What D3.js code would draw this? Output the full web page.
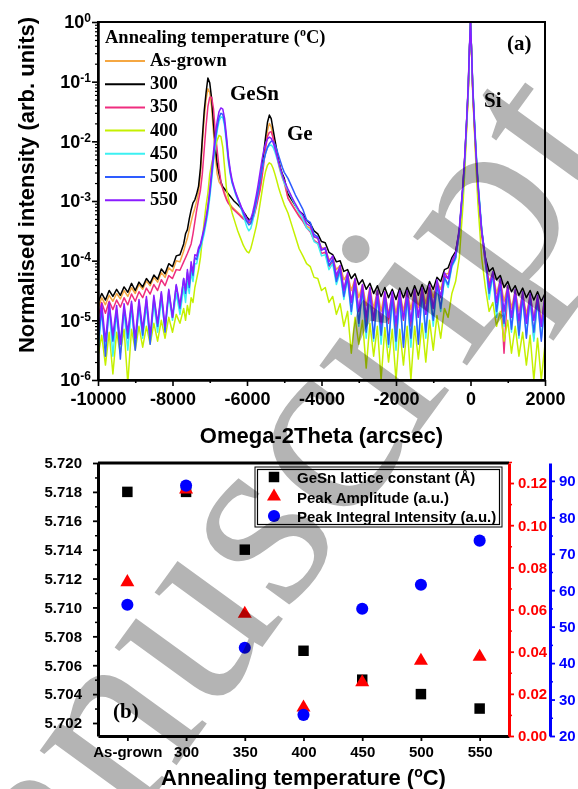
<!DOCTYPE html>
<html>
<head>
<meta charset="utf-8">
<script src="https://d3js.org/d3.v7.min.js"></script>
<style>
  body { margin: 0; background: #fff; }
  svg text { font-family: "Liberation Sans", Arial, sans-serif; font-weight: bold; }
  svg .serif { font-family: "Liberation Serif", "Times New Roman", serif; }
</style>
</head>
<body>
<script>

// ---------- panel (a) data : omega-2theta scans ----------
// scan positions (arcsec)
var omega = [
  -10000,-9900,-9800,-9700,-9600,-9500,-9400,-9300,-9200,-9100,-9000,-8900,-8800,-8700,-8600,-8500,-8400,-8300,-8200,-8100,-8000,-7900,-7800,-7700,
  -7650,-7600,-7550,-7500,-7450,-7400,-7350,-7300,-7250,-7200,-7150,-7100,-7050,-7000,-6950,-6900,-6850,-6800,-6750,-6700,-6650,-6600,-6550,-6500,-6450,-6400,-6350,-6300,-6250,-6200,-6150,-6100,-6050,-6000,-5950,-5900,-5850,-5800,-5750,-5700,-5650,-5600,-5550,-5500,-5450,-5400,-5350,-5300,-5250,-5200,-5150,-5100,-5050,-5000,
  -4900,-4800,-4700,-4600,-4500,-4400,-4300,-4200,-4100,-4000,-3900,-3800,-3700,-3600,-3500,-3400,-3300,-3200,-3100,-3000,-2900,-2800,-2700,-2600,-2500,-2400,-2300,-2200,-2100,-2000,-1900,-1800,-1700,-1600,-1500,-1400,-1300,-1200,-1100,-1000,-900,-800,-700,-600,-500,-400,
  -300,-200,-150,-100,-60,-30,0,30,60,100,150,200,300,
  400,500,600,700,800,900,1000,1100,1200,1300,1400,1500,1600,1700,1800,1900,2000
];

// log10 of normalised intensity
var logAsGrown = [
  -4.80,-4.62,-4.74,-4.58,-4.68,-4.55,-4.64,-4.50,-4.60,-4.45,-4.55,-4.40,-4.48,-4.34,-4.42,-4.28,-4.36,-4.20,-4.28,-4.12,-4.18,-4.00,-4.02,-3.84,
  -3.72,-3.62,-3.48,-3.35,-3.22,-3.12,-3.00,-2.85,-2.55,-2.05,-1.62,-1.30,-1.12,-1.18,-1.42,-1.85,-2.25,-2.55,-2.68,-2.73,-2.78,-2.86,-2.95,-3.02,-3.06,-3.10,-3.13,-3.16,-3.19,-3.22,-3.25,-3.28,-3.31,-3.34,-3.37,-3.36,-3.30,-3.20,-3.06,-2.92,-2.78,-2.55,-2.30,-2.05,-1.82,-1.70,-1.76,-1.92,-2.08,-2.24,-2.40,-2.52,-2.62,-2.70,
  -2.95,-3.05,-3.15,-3.24,-3.30,-3.42,-3.46,-3.60,-3.63,-3.78,-3.80,-3.98,-3.96,-4.15,-4.08,-4.32,-4.22,-4.50,-4.30,-4.62,-4.40,-4.75,-4.45,-4.80,-4.50,-4.85,-4.52,-4.90,-4.55,-4.88,-4.52,-4.85,-4.50,-4.82,-4.48,-4.78,-4.45,-4.72,-4.40,-4.62,-4.35,-4.48,-4.22,-4.22,-4.02,-3.92,
  -3.55,-2.78,-2.28,-1.68,-1.15,-0.52,0,-0.52,-1.15,-1.68,-2.28,-2.78,-3.55,
  -4.02,-4.35,-4.20,-4.55,-4.32,-4.68,-4.42,-4.80,-4.50,-4.85,-4.55,-4.90,-4.58,-4.95,-4.60,-5.00,-4.62
];
var log300 = [
  -4.70,-4.55,-4.66,-4.50,-4.60,-4.48,-4.58,-4.44,-4.53,-4.38,-4.50,-4.36,-4.44,-4.30,-4.38,-4.24,-4.31,-4.14,-4.22,-4.05,-4.10,-3.92,-3.90,-3.72,
  -3.55,-3.48,-3.30,-3.15,-3.03,-2.98,-2.88,-2.75,-2.45,-1.95,-1.50,-1.19,-0.94,-1.02,-1.28,-1.70,-2.08,-2.38,-2.55,-2.68,-2.76,-2.80,-2.84,-2.88,-2.92,-2.96,-3.00,-3.03,-3.06,-3.09,-3.13,-3.18,-3.22,-3.27,-3.31,-3.31,-3.26,-3.15,-3.00,-2.85,-2.70,-2.45,-2.18,-1.92,-1.68,-1.56,-1.62,-1.80,-1.98,-2.15,-2.32,-2.45,-2.55,-2.62,
  -2.88,-2.98,-3.08,-3.17,-3.22,-3.32,-3.38,-3.50,-3.55,-3.68,-3.70,-3.86,-3.90,-4.02,-4.00,-4.18,-4.15,-4.30,-4.22,-4.40,-4.32,-4.48,-4.38,-4.55,-4.42,-4.60,-4.45,-4.62,-4.48,-4.65,-4.46,-4.62,-4.45,-4.60,-4.42,-4.58,-4.40,-4.55,-4.35,-4.48,-4.28,-4.35,-4.15,-4.12,-3.95,-3.85,
  -3.50,-2.72,-2.22,-1.62,-1.10,-0.50,0,-0.50,-1.10,-1.62,-2.22,-2.72,-3.50,
  -3.95,-4.18,-4.12,-4.32,-4.25,-4.45,-4.35,-4.52,-4.42,-4.58,-4.46,-4.62,-4.50,-4.66,-4.52,-4.68,-4.55
];
var log350 = [
  -4.95,-4.70,-4.88,-4.68,-4.82,-4.66,-4.78,-4.62,-4.74,-4.56,-4.68,-4.52,-4.62,-4.46,-4.56,-4.40,-4.50,-4.32,-4.42,-4.25,-4.30,-4.15,-4.16,-4.02,
  -3.95,-3.88,-3.80,-3.72,-3.55,-3.35,-3.15,-2.98,-2.82,-2.55,-2.15,-1.75,-1.42,-1.26,-1.26,-1.45,-1.85,-2.15,-2.45,-2.68,-2.80,-2.90,-2.98,-3.04,-3.08,-3.12,-3.15,-3.18,-3.21,-3.24,-3.27,-3.30,-3.32,-3.34,-3.36,-3.35,-3.30,-3.22,-3.10,-2.96,-2.82,-2.62,-2.38,-2.12,-1.92,-1.85,-1.84,-1.94,-2.08,-2.22,-2.36,-2.48,-2.58,-2.66,
  -2.95,-3.06,-3.16,-3.26,-3.34,-3.45,-3.52,-3.66,-3.70,-3.88,-3.86,-4.10,-4.02,-4.30,-4.12,-4.48,-4.25,-4.70,-4.32,-4.85,-4.42,-5.10,-4.48,-5.00,-4.52,-5.15,-4.55,-5.05,-4.58,-5.20,-4.55,-5.00,-4.52,-5.10,-4.50,-4.95,-4.48,-4.90,-4.42,-4.80,-4.38,-4.60,-4.25,-4.30,-4.05,-3.95,
  -3.55,-2.80,-2.30,-1.70,-1.15,-0.52,0,-0.52,-1.15,-1.70,-2.30,-2.80,-3.55,
  -4.05,-4.40,-4.25,-4.70,-4.38,-5.55,-4.48,-4.95,-4.55,-5.10,-4.58,-5.00,-4.62,-5.30,-4.65,-5.10,-4.68
];
var log400 = [
  -5.60,-5.25,-5.75,-5.20,-5.90,-5.20,-5.55,-5.15,-6.05,-5.15,-5.50,-5.10,-5.45,-5.10,-5.40,-5.05,-5.35,-5.00,-5.30,-4.95,-5.20,-4.90,-5.05,-4.80,
  -5.00,-4.75,-4.90,-4.62,-4.70,-4.45,-4.30,-4.15,-3.95,-3.65,-3.35,-3.08,-2.87,-2.55,-2.38,-2.25,-2.10,-1.98,-1.90,-1.92,-2.10,-2.45,-2.80,-2.95,-3.08,-3.20,-3.30,-3.40,-3.50,-3.58,-3.66,-3.74,-3.80,-3.85,-3.87,-3.80,-3.68,-3.55,-3.42,-3.25,-3.05,-2.85,-2.65,-2.50,-2.40,-2.36,-2.38,-2.45,-2.55,-2.66,-2.78,-2.88,-2.97,-3.06,
  -3.20,-3.40,-3.60,-3.80,-3.92,-4.05,-4.10,-4.28,-4.30,-4.50,-4.45,-4.70,-4.60,-4.90,-4.72,-5.10,-4.85,-5.55,-4.95,-5.40,-5.00,-5.80,-5.05,-5.60,-5.10,-6.00,-5.12,-5.70,-5.15,-6.00,-5.15,-5.75,-5.10,-6.00,-5.10,-5.65,-5.05,-5.70,-5.00,-5.50,-4.92,-5.30,-4.80,-4.95,-4.55,-4.35,
  -3.95,-3.05,-2.45,-1.75,-1.20,-0.55,0,-0.55,-1.20,-1.75,-2.45,-3.05,-3.95,
  -4.45,-4.85,-4.70,-5.10,-4.85,-5.35,-5.00,-5.55,-5.10,-5.60,-5.20,-5.75,-5.25,-6.00,-5.30,-6.00,-5.40
];
var log450 = [
  -5.55,-4.85,-5.45,-4.80,-5.60,-4.90,-5.35,-4.85,-5.50,-4.80,-5.40,-4.78,-5.30,-4.75,-5.35,-4.72,-5.20,-4.65,-5.15,-4.60,-5.00,-4.55,-4.90,-4.45,
  -4.70,-4.35,-4.55,-4.20,-4.35,-4.05,-4.05,-3.88,-3.80,-3.68,-3.55,-3.38,-3.20,-2.95,-2.65,-2.35,-2.05,-1.82,-1.66,-1.59,-1.60,-1.75,-2.05,-2.35,-2.55,-2.70,-2.80,-2.90,-2.98,-3.06,-3.14,-3.24,-3.34,-3.44,-3.50,-3.46,-3.35,-3.20,-3.02,-2.85,-2.66,-2.48,-2.32,-2.20,-2.11,-2.07,-2.06,-2.10,-2.18,-2.28,-2.38,-2.50,-2.60,-2.70,
  -2.82,-2.95,-3.08,-3.20,-3.30,-3.45,-3.50,-3.68,-3.72,-3.92,-3.90,-4.15,-4.05,-4.40,-4.20,-4.65,-4.30,-4.90,-4.40,-5.10,-4.50,-5.30,-4.55,-5.35,-4.60,-5.40,-4.62,-5.45,-4.62,-5.50,-4.60,-5.40,-4.60,-5.45,-4.58,-5.35,-4.55,-5.30,-4.50,-5.10,-4.42,-4.85,-4.30,-4.45,-4.10,-3.98,
  -3.50,-2.75,-2.25,-1.62,-1.10,-0.50,0,-0.48,-1.05,-1.55,-2.15,-2.65,-3.45,
  -4.00,-4.65,-4.25,-4.95,-4.40,-5.10,-4.50,-5.20,-4.58,-5.30,-4.62,-5.25,-4.65,-5.35,-4.68,-5.30,-4.70
];
var log500 = [
  -5.40,-4.80,-5.60,-4.75,-5.35,-4.82,-5.65,-4.78,-5.30,-4.72,-5.50,-4.70,-5.25,-4.65,-5.40,-4.62,-5.10,-4.55,-5.20,-4.50,-4.95,-4.42,-4.80,-4.30,
  -4.55,-4.20,-4.45,-4.08,-4.25,-3.95,-3.98,-3.82,-3.75,-3.62,-3.48,-3.32,-3.12,-2.88,-2.58,-2.28,-1.98,-1.76,-1.60,-1.53,-1.55,-1.70,-1.98,-2.30,-2.52,-2.68,-2.78,-2.88,-2.96,-3.04,-3.12,-3.20,-3.28,-3.35,-3.40,-3.38,-3.28,-3.15,-3.00,-2.84,-2.66,-2.48,-2.32,-2.20,-2.10,-2.04,-2.00,-2.00,-2.05,-2.14,-2.24,-2.34,-2.44,-2.52,
  -2.62,-2.76,-2.90,-3.02,-3.14,-3.32,-3.36,-3.56,-3.60,-3.82,-3.80,-4.08,-3.98,-4.35,-4.15,-4.60,-4.28,-4.85,-4.38,-5.05,-4.48,-5.20,-4.52,-5.30,-4.58,-5.25,-4.60,-5.40,-4.60,-5.35,-4.58,-5.45,-4.58,-5.30,-4.55,-5.40,-4.52,-5.20,-4.48,-5.00,-4.40,-4.80,-4.28,-4.40,-4.08,-3.95,
  -3.50,-2.75,-2.25,-1.62,-1.08,-0.48,0,-0.50,-1.08,-1.60,-2.20,-2.70,-3.48,
  -3.98,-4.55,-4.22,-4.85,-4.38,-5.05,-4.48,-5.15,-4.55,-5.25,-4.60,-5.30,-4.62,-5.20,-4.65,-5.35,-4.68
];
var log550 = [
  -5.20,-4.72,-5.35,-4.70,-5.25,-4.75,-5.40,-4.72,-5.20,-4.68,-5.30,-4.65,-5.15,-4.60,-5.25,-4.58,-5.05,-4.52,-5.10,-4.48,-4.95,-4.40,-4.75,-4.30,
  -4.50,-4.15,-4.40,-4.02,-4.20,-3.90,-3.92,-3.78,-3.72,-3.58,-3.45,-3.28,-3.08,-2.82,-2.50,-2.18,-1.88,-1.66,-1.50,-1.44,-1.46,-1.62,-1.92,-2.25,-2.48,-2.65,-2.76,-2.86,-2.94,-3.02,-3.10,-3.17,-3.24,-3.30,-3.34,-3.30,-3.20,-3.06,-2.90,-2.72,-2.52,-2.32,-2.15,-2.03,-1.96,-1.93,-1.95,-2.02,-2.12,-2.24,-2.36,-2.47,-2.57,-2.66,
  -2.80,-2.93,-3.05,-3.16,-3.24,-3.38,-3.42,-3.60,-3.62,-3.82,-3.78,-4.02,-3.92,-4.25,-4.08,-4.50,-4.20,-4.70,-4.30,-4.85,-4.40,-4.95,-4.45,-5.00,-4.50,-5.05,-4.52,-4.95,-4.52,-5.05,-4.50,-4.98,-4.50,-5.02,-4.48,-4.95,-4.45,-4.90,-4.40,-4.80,-4.32,-4.62,-4.20,-4.30,-4.00,-3.88,
  -3.45,-2.70,-2.20,-1.60,-1.05,-0.45,0,-0.52,-1.12,-1.65,-2.25,-2.75,-3.50,
  -3.95,-4.45,-4.18,-4.70,-4.30,-4.85,-4.42,-4.95,-4.48,-5.00,-4.52,-5.05,-4.55,-5.00,-4.58,-5.10,-4.55
];

var seriesNames  = ["As-grown", "300", "350", "400", "450", "500", "550"];
var seriesColors = ["#f5a742", "#000000", "#ef2d7f", "#c5f000", "#3cf0f2", "#2e5cff", "#8a1cff"];
var seriesLogs   = [logAsGrown, log300, log350, log400, log450, log500, log550];

var xTicksA = [-10000, -8000, -6000, -4000, -2000, 0, 2000];
var xMinorA = [-9000, -7000, -5000, -3000, -1000, 1000];
var yDecades = [-6, -5, -4, -3, -2, -1, 0];

// ---------- panel (b) data ----------
var tempLabels   = ["As-grown", "300", "350", "400", "450", "500", "550"];
var latticeConst = [5.718, 5.718, 5.714, 5.707, 5.705, 5.704, 5.703];   // Å
var peakAmp      = [0.073, 0.117, 0.058, 0.0135, 0.0255, 0.0357, 0.0376];
var peakIntegral = [56.0, 88.7, 44.2, 25.8, 54.9, 61.5, 73.6];

var latticeTicks = [5.702, 5.704, 5.706, 5.708, 5.710, 5.712, 5.714, 5.716, 5.718, 5.720];
var ampTicks     = [0, 0.02, 0.04, 0.06, 0.08, 0.10, 0.12];
var integTicks   = [20, 30, 40, 50, 60, 70, 80, 90];

seriesLogs.forEach(function(s, i) {
  if (s.length !== omega.length) console.error("length mismatch", seriesNames[i], s.length, omega.length);
});

var svg = d3.select("body").append("svg")
  .attr("width", 578)
  .attr("height", 789);

// ================= panel (a) =================
var pa = {left: 98, right: 545, top: 22, bottom: 380};

var x = d3.scaleLinear().domain([-10000, 2000]).range([pa.left, pa.right]);
var y = d3.scaleLog().domain([1e-6, 1]).range([pa.bottom, pa.top]);

svg.append("clipPath").attr("id", "clipA")
  .append("rect")
  .attr("x", pa.left).attr("y", pa.top)
  .attr("width", pa.right - pa.left).attr("height", pa.bottom - pa.top);

var line = d3.line()
  .x(function(d, i) { return x(omega[i]); })
  .y(function(d) { return y(Math.pow(10, d)); });

var gLines = svg.append("g").attr("clip-path", "url(#clipA)");
seriesLogs.forEach(function(s, i) {
  gLines.append("path")
    .attr("d", line(s))
    .attr("fill", "none")
    .attr("stroke", seriesColors[i])
    .attr("stroke-width", 1.5)
    .attr("stroke-linejoin", "round");
});

// frame
svg.append("rect")
  .attr("x", pa.left).attr("y", pa.top)
  .attr("width", pa.right - pa.left).attr("height", pa.bottom - pa.top)
  .attr("fill", "none").attr("stroke", "#000").attr("stroke-width", 2);

function styleAxis(g, size) {
  g.attr("font-family", null).attr("font-size", size);
  g.select(".domain").attr("stroke-width", 2.5);
  g.selectAll(".tick line").attr("stroke-width", 1.6);
}

// x axis
var gxa = svg.append("g").attr("transform", "translate(0," + pa.bottom + ")")
  .call(d3.axisBottom(x).tickValues(xTicksA).tickSizeInner(6).tickSizeOuter(0)
    .tickFormat(function(d) { return String(d); }));
styleAxis(gxa, 18);
gxa.selectAll(".tick text").attr("y", 12);
svg.append("g").attr("transform", "translate(0," + pa.bottom + ")")
  .call(d3.axisBottom(x).tickValues(xMinorA).tickSize(3).tickFormat(""))
  .call(function(g) { g.select(".domain").remove(); g.selectAll("line").attr("stroke-width", 1.6); });

// y axis (log)
var minorY = [];
yDecades.slice(0, -1).forEach(function(e) {
  for (var m = 2; m <= 9; m++) minorY.push(m * Math.pow(10, e));
});
var gya = svg.append("g").attr("transform", "translate(" + pa.left + ",0)")
  .call(d3.axisLeft(y).tickValues(yDecades.map(function(e) { return Math.pow(10, e); }))
    .tickSizeInner(6).tickSizeOuter(0).tickFormat(""));
styleAxis(gya, 18);
gya.selectAll(".tick").each(function(d) {
  var t = d3.select(this).select("text").attr("x", -7).attr("dy", "0.32em");
  t.append("tspan").text("10");
  t.append("tspan").attr("dy", -6).attr("font-size", 12).text(String(Math.round(Math.log10(d))));
});
svg.append("g").attr("transform", "translate(" + pa.left + ",0)")
  .call(d3.axisLeft(y).tickValues(minorY).tickSize(3).tickFormat(""))
  .call(function(g) { g.select(".domain").remove(); g.selectAll("line").attr("stroke-width", 1.2); });

// axis titles
svg.append("text")
  .attr("transform", "translate(34," + ((pa.top + pa.bottom) / 2 - 16) + ") rotate(-90)")
  .attr("text-anchor", "middle").attr("font-size", 22)
  .text("Normalised intensity (arb. units)");
svg.append("text")
  .attr("x", (pa.left + pa.right) / 2).attr("y", 443)
  .attr("text-anchor", "middle").attr("font-size", 22)
  .text("Omega-2Theta (arcsec)");

// legend (a)
var legA = svg.append("g").attr("class", "serif");
var legTitle = legA.append("text").attr("class", "serif")
  .attr("x", 105).attr("y", 43).attr("font-size", 18.5);
legTitle.append("tspan").text("Annealing temperature (");
legTitle.append("tspan").attr("dy", -7).attr("font-size", 12).text("o");
legTitle.append("tspan").attr("dy", 7).text("C)");
seriesNames.forEach(function(name, i) {
  var yy = 66 + i * 23.2;
  legA.append("line")
    .attr("x1", 105).attr("x2", 145).attr("y1", yy - 5).attr("y2", yy - 5)
    .attr("stroke", seriesColors[i]).attr("stroke-width", 2);
  legA.append("text").attr("class", "serif")
    .attr("x", 150).attr("y", yy).attr("font-size", 18.5).text(name);
});

// peak labels
[["GeSn", 230, 100], ["Ge", 287, 140], ["Si", 484, 107], ["(a)", 507, 50]].forEach(function(l) {
  svg.append("text").attr("class", "serif")
    .attr("x", l[1]).attr("y", l[2]).attr("font-size", 21).text(l[0]);
});

// ================= panel (b) =================
var pb = {left: 98, right: 509, top: 463, bottom: 736, blue: 550};

var xb = d3.scalePoint().domain(tempLabels).range([pb.left, pb.right]).padding(0.5);
var yL = d3.scaleLinear().domain([5.7011, 5.720]).range([pb.bottom, pb.top]);
var yR = d3.scaleLinear().domain([0, 0.1295]).range([pb.bottom, pb.top]);
var yB = d3.scaleLinear().domain([20, 94.9]).range([pb.bottom, pb.top]);

// top frame line
svg.append("line")
  .attr("x1", pb.left).attr("x2", pb.right).attr("y1", pb.top).attr("y2", pb.top)
  .attr("stroke", "#000").attr("stroke-width", 3);

function thickAxis(g, color) {
  g.attr("font-family", null).attr("font-size", 15);
  g.select(".domain").attr("stroke-width", 3).attr("stroke", color);
  g.selectAll(".tick line").attr("stroke-width", 1.8).attr("stroke", color);
  g.selectAll(".tick text").attr("fill", color);
}

// bottom axis
var gxb = svg.append("g").attr("transform", "translate(0," + pb.bottom + ")")
  .call(d3.axisBottom(xb).tickSizeInner(5).tickSizeOuter(0));
thickAxis(gxb, "#000");
gxb.selectAll(".tick text").attr("y", 10);

// left axis
var gyl = svg.append("g").attr("transform", "translate(" + pb.left + ",0)")
  .call(d3.axisLeft(yL).tickValues(latticeTicks).tickSizeInner(5).tickSizeOuter(0).tickFormat(d3.format(".3f")));
thickAxis(gyl, "#000");
gyl.selectAll(".tick text").attr("x", -16);
svg.append("g").attr("transform", "translate(" + pb.left + ",0)")
  .call(d3.axisLeft(yL).tickValues(latticeTicks.slice(0, -1).map(function(v) { return v + 0.001; }))
    .tickSize(3).tickFormat(""))
  .call(function(g) { g.select(".domain").remove(); g.selectAll("line").attr("stroke-width", 1.5); });

// right axis (red)
var gyr = svg.append("g").attr("transform", "translate(" + pb.right + ",0)")
  .call(d3.axisRight(yR).tickValues(ampTicks).tickSizeInner(5).tickSizeOuter(0).tickFormat(d3.format(".2f")));
thickAxis(gyr, "#ff0000");
gyr.selectAll(".tick text").attr("x", 9);
svg.append("g").attr("transform", "translate(" + pb.right + ",0)")
  .call(d3.axisRight(yR).tickValues(ampTicks.map(function(v) { return v + 0.01; })).tickSize(3).tickFormat(""))
  .call(function(g) { g.select(".domain").remove(); g.selectAll("line").attr("stroke", "#ff0000").attr("stroke-width", 1.5); });

// far right axis (blue)
var gyb = svg.append("g").attr("transform", "translate(" + pb.blue + ",0)")
  .call(d3.axisRight(yB).tickValues(integTicks).tickSizeInner(5).tickSizeOuter(0));
thickAxis(gyb, "#0000ff");
gyb.selectAll(".tick text").attr("x", 9);
svg.append("g").attr("transform", "translate(" + pb.blue + ",0)")
  .call(d3.axisRight(yB).tickValues(integTicks.map(function(v) { return v + 5; }).filter(function(v) { return v < 94.9; }))
    .tickSize(3).tickFormat(""))
  .call(function(g) { g.select(".domain").remove(); g.selectAll("line").attr("stroke", "#0000ff").attr("stroke-width", 1.5); });

// markers
var sq = d3.symbol().type(d3.symbolSquare).size(110);
var tri = d3.symbol().type(d3.symbolTriangle).size(85);
var circ = d3.symbol().type(d3.symbolCircle).size(115);

svg.append("g").selectAll("path").data(latticeConst).join("path")
  .attr("d", sq)
  .attr("transform", function(d, i) { return "translate(" + xb(tempLabels[i]) + "," + yL(d) + ")"; })
  .attr("fill", "#000");
svg.append("g").selectAll("path").data(peakAmp).join("path")
  .attr("d", tri)
  .attr("transform", function(d, i) { return "translate(" + xb(tempLabels[i]) + "," + yR(d) + ")"; })
  .attr("fill", "#ff0000");
svg.append("g").selectAll("path").data(peakIntegral).join("path")
  .attr("d", circ)
  .attr("transform", function(d, i) { return "translate(" + xb(tempLabels[i]) + "," + yB(d) + ")"; })
  .attr("fill", "#0000ff");

// legend (b)
var legB = svg.append("g");
legB.append("rect").attr("x", 255).attr("y", 467).attr("width", 247).attr("height", 60)
  .attr("fill", "#fff").attr("stroke", "#000").attr("stroke-width", 1);
legB.append("rect").attr("x", 257.5).attr("y", 469.5).attr("width", 242).attr("height", 55)
  .attr("fill", "none").attr("stroke", "#000").attr("stroke-width", 1.2);
var legItems = [
  {label: "GeSn lattice constant (\u00c5)", sym: sq, color: "#000"},
  {label: "Peak Amplitude (a.u.)", sym: tri, color: "#ff0000"},
  {label: "Peak Integral Intensity (a.u.)", sym: circ, color: "#0000ff"}
];
legItems.forEach(function(it, i) {
  var yy = 477 + i * 19.5;
  legB.append("path").attr("d", it.sym).attr("fill", it.color)
    .attr("transform", "translate(274," + yy + ")");
  legB.append("text").attr("x", 297).attr("y", yy + 6).attr("font-size", 15).text(it.label);
});

svg.append("text").attr("class", "serif")
  .attr("x", 113).attr("y", 718).attr("font-size", 21).text("(b)");

var xbTitle = svg.append("text")
  .attr("x", (pb.left + pb.right) / 2).attr("y", 785)
  .attr("text-anchor", "middle").attr("font-size", 22);
xbTitle.append("tspan").text("Annealing temperature (");
xbTitle.append("tspan").attr("dy", -8).attr("font-size", 14).text("o");
xbTitle.append("tspan").attr("dy", 8).text("C)");

// watermark
svg.append("text").attr("class", "serif")
  .attr("transform", "translate(-71,1106) rotate(-54)")
  .attr("font-size", 260)
  .style("font-weight", "normal")
  .style("mix-blend-mode", "multiply")
  .attr("fill", "#b4b4b4")
  .text("Manuscript");

</script>
</body>
</html>
